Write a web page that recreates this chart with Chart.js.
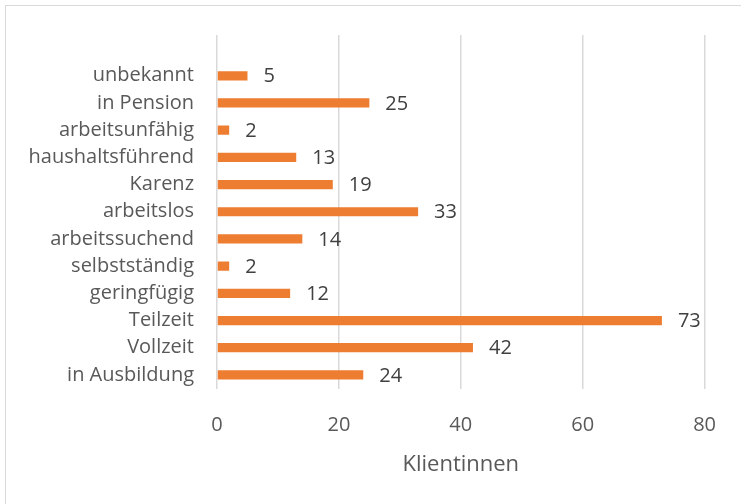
<!DOCTYPE html>
<html>
<head>
<meta charset="utf-8">
<script src="https://cdn.jsdelivr.net/npm/chart.js@4.4.0/dist/chart.umd.js"></script>
<style>
  html, body { margin: 0; padding: 0; background: #fff; overflow: hidden; }
  #wrap { position: relative; width: 741px; height: 504px; }
  #frame {
    position: absolute; left: 5px; top: 5px; width: 760px; height: 520px;
    border: 1px solid #d9d9d9; box-sizing: border-box; pointer-events: none;
  }
  canvas { position: absolute; left: 0; top: 0; }
</style>
</head>
<body>
<div id="wrap">
  <canvas id="myChart" width="741" height="504"></canvas>
  <div id="frame"></div>
</div>
<script>
// categories top to bottom as in the picture
const categories = [
    'unbekannt', 'in Pension', 'arbeitsunfähig', 'haushaltsführend', 'Karenz',
    'arbeitslos', 'arbeitssuchend', 'selbstständig', 'geringfügig', 'Teilzeit',
    'Vollzeit', 'in Ausbildung'
];
const clientCounts = [5, 25, 2, 13, 19, 33, 14, 2, 12, 73, 42, 24];
const xTicks = [0, 20, 40, 60, 80];
const axisTitle = 'Klientinnen';

const FONT = "'Open Sans', 'DejaVu Sans', sans-serif";

// the original plot has one empty row above the first category
const labels = [''].concat(categories);
const values = [null].concat(clientCounts);

// draw the value next to the end of each bar
const barValueLabels = {
    id: 'barValueLabels',
    afterDatasetsDraw(chart) {
        const ctx = chart.ctx;
        const meta = chart.getDatasetMeta(0);
        ctx.save();
        ctx.font = '20px ' + FONT;
        ctx.fillStyle = '#404040';
        ctx.textAlign = 'left';
        ctx.textBaseline = 'middle';
        meta.data.forEach((bar, i) => {
            const v = values[i];
            if (v === null) return;
            ctx.fillText(String(v), bar.x + 16, bar.y + 1);
        });
        ctx.restore();
    }
};

const ctx = document.getElementById('myChart');
new Chart(ctx, {
    type: 'bar',
    data: {
        labels: labels,
        datasets: [{
            data: values,
            backgroundColor: '#ed7d31',
            borderWidth: 0,
            barPercentage: 0.34,
            categoryPercentage: 1.0
        }]
    },
    options: {
        indexAxis: 'y',
        responsive: false,
        animation: false,
        layout: {
            padding: { top: 34, right: 35, bottom: 0, left: 0 }
        },
        plugins: {
            legend: { display: false },
            tooltip: { enabled: false }
        },
        scales: {
            x: {
                min: xTicks[0],
                max: xTicks[xTicks.length - 1],
                afterBuildTicks: (scale) => {
                    scale.ticks = xTicks.map(v => ({ value: v }));
                },
                afterFit: (scale) => { scale.height = 115.5; },
                border: { display: false },
                grid: {
                    color: '#d9d9d9',
                    lineWidth: 1.5,
                    drawTicks: false
                },
                ticks: {
                    color: '#595959',
                    padding: 25,
                    font: { family: FONT, size: 20 }
                },
                title: {
                    display: true,
                    text: axisTitle,
                    color: '#595959',
                    font: { family: FONT, size: 22 },
                    padding: { top: 0, bottom: 26 }
                }
            },
            y: {
                afterFit: (scale) => { scale.width = 217; },
                border: { display: false },
                grid: { display: false, drawTicks: false },
                ticks: {
                    color: '#595959',
                    padding: 23,
                    autoSkip: false,
                    font: { family: FONT, size: 20 }
                }
            }
        }
    },
    plugins: [barValueLabels]
});
</script>
</body>
</html>
